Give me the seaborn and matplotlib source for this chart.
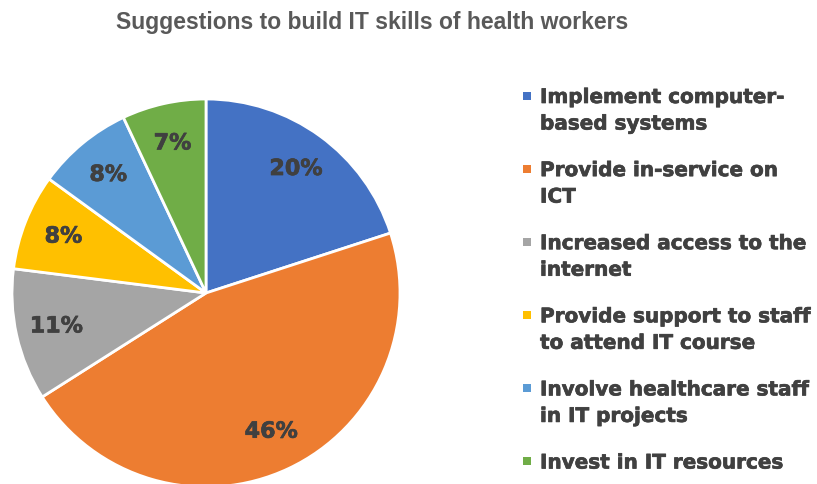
import matplotlib
matplotlib.use("Agg")
import matplotlib.pyplot as plt
import matplotlib.patheffects as pe
from matplotlib.lines import Line2D
import seaborn as sns

# Survey results: suggestions to build IT skills of health workers
categories = [
    "Implement computer-\nbased systems",
    "Provide in-service on\nICT",
    "Increased access to the\ninternet",
    "Provide support to staff\nto attend IT course",
    "Involve healthcare staff\nin IT projects",
    "Invest in IT resources",
]
shares = [20, 46, 11, 8, 8, 7]
slice_colors = ["#4472C4", "#ED7D31", "#A5A5A5", "#FFC000", "#5B9BD5", "#70AD47"]

sns.set_theme(style="white")
palette = sns.color_palette(slice_colors)

W, H = 817, 484
fig = plt.figure(figsize=(W / 100, H / 100), dpi=100)
text_color = "#404040"
heavy = [pe.withStroke(linewidth=0.5, foreground=text_color)]

# pie axes placed so the circle sits on the left half
cx, cy, r = 206, 293, 194
ax = fig.add_axes([(cx - r) / W, (H - cy - r) / H, 2 * r / W, 2 * r / H])

wedges, texts, autotexts = ax.pie(
    shares,
    colors=palette,
    startangle=90,
    counterclock=False,
    autopct=lambda p: f"{p:.0f}%",
    pctdistance=0.79,
    wedgeprops=dict(edgecolor="white", linewidth=2),
    textprops=dict(color=text_color, fontsize=16, fontweight="bold",
                   family="DejaVu Sans"),
)
for t in autotexts:
    t.set_path_effects(heavy)
ax.set_xlim(-1, 1)
ax.set_ylim(-1, 1)
ax.set_aspect("equal")
ax.axis("off")
for w in wedges:
    w.set_clip_on(False)

fig.text(372 / W, 1 - 23 / H, "Suggestions to build IT skills of health workers",
         ha="center", va="center", fontsize=16.5, fontweight="bold",
         color="#595959", family=["Liberation Sans", "DejaVu Sans"])

# small square markers, aligned with the first line of each label
handles = [Line2D([], [], marker="s", linestyle="none", markersize=6,
                  markerfacecolor=c, markeredgewidth=0) for c in palette]
leg = fig.legend(
    handles, categories,
    loc="upper left",
    bbox_to_anchor=(513 / W, 1 - 80 / H),
    frameon=False,
    handlelength=0.6,
    handleheight=1.0,
    handletextpad=0.35,
    labelspacing=1.38,
    borderaxespad=0,
    prop=dict(family="DejaVu Sans", weight="bold", size=14.4),
)
for col in leg._legend_handle_box.get_children():
    for item in col.get_children():
        item.align = "top"
for t in leg.get_texts():
    t.set_color(text_color)
    t.set_linespacing(1.5)
    t.set_path_effects(heavy)

fig.savefig("out.png", dpi=100)
